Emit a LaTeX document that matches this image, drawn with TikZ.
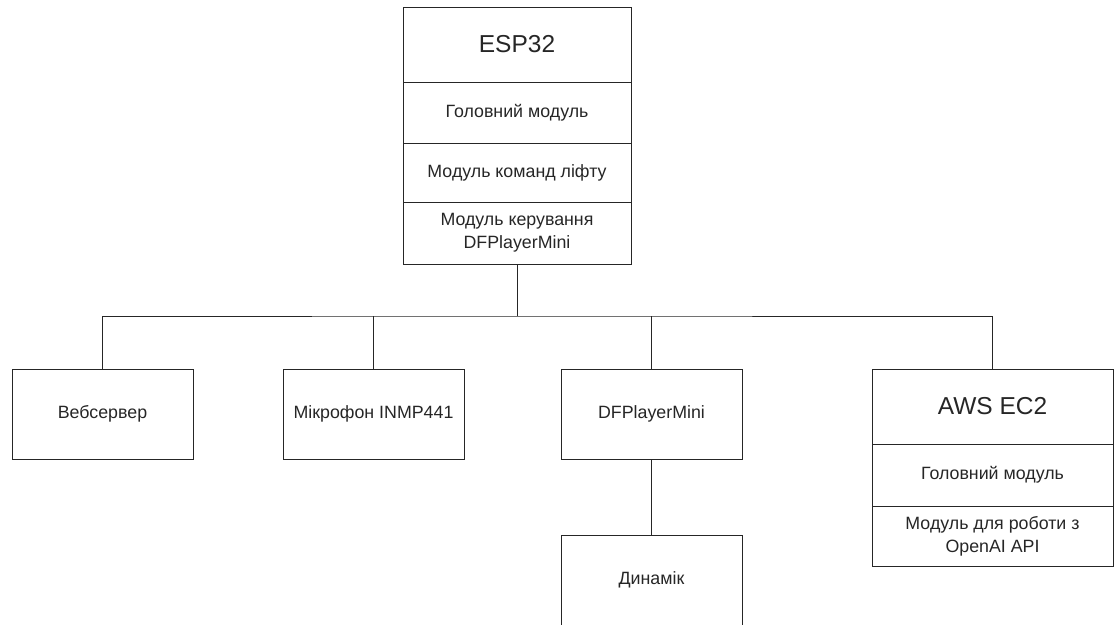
\documentclass[tikz,border=0pt]{standalone}
\usepackage{fontspec}
\setmainfont{Liberation Sans}
\begin{document}
\begin{tikzpicture}[x=1pt,y=-1pt,
  box/.style={draw=black!85, line width=1pt, inner sep=0pt, align=center,
    font=\fontsize{17.8}{23}\selectfont, text=black!85},
  title/.style={font=\fontsize{24.5}{28}\selectfont},
  link/.style={draw=black!85, line width=1pt}]
\useasboundingbox (0,0) rectangle (1116,624);
\clip (0,0) rectangle (1116,624);
% ESP32 stack
\node[box,title,minimum width=228,minimum height=75] (esp) at (517,44.5) {ESP32};
\node[box,minimum width=228,minimum height=61] (esp1) at (517,112.5) {Головний модуль};
\node[box,minimum width=228,minimum height=59] (esp2) at (517,172.5) {Модуль команд ліфту};
\node[box,minimum width=228,minimum height=62] (esp3) at (517,233) {Модуль керування\\DFPlayerMini};
% lower boxes
\node[box,minimum width=181,minimum height=90] (web) at (102.5,414) {Вебсервер};
\node[box,minimum width=181,minimum height=90] (mic) at (373.5,414) {Мікрофон INMP441};
\node[box,minimum width=181,minimum height=90] (dfp) at (651.5,414) {DFPlayerMini};
\node[box,minimum width=181,minimum height=90] (spk) at (651.5,580) {Динамік};
% AWS stack
\node[box,title,minimum width=241,minimum height=75] (aws) at (992.5,406.5) {AWS EC2};
\node[box,minimum width=241,minimum height=62] (aws1) at (992.5,475) {Головний модуль};
\node[box,minimum width=241,minimum height=60] (aws2) at (992.5,536) {Модуль для роботи з\\OpenAI API};
% connectors
\coordinate (bus) at (517,316);
\draw[link] (esp3.south) -- (bus);
\draw[link] (web.north) |- (bus) -| (aws.north);
\draw[link] (mic.north) -- (mic.north |- bus);
\draw[link] (dfp.north) -- (dfp.north |- bus);
\draw[link] (dfp.south) -- (spk.north);
\end{tikzpicture}
\end{document}
